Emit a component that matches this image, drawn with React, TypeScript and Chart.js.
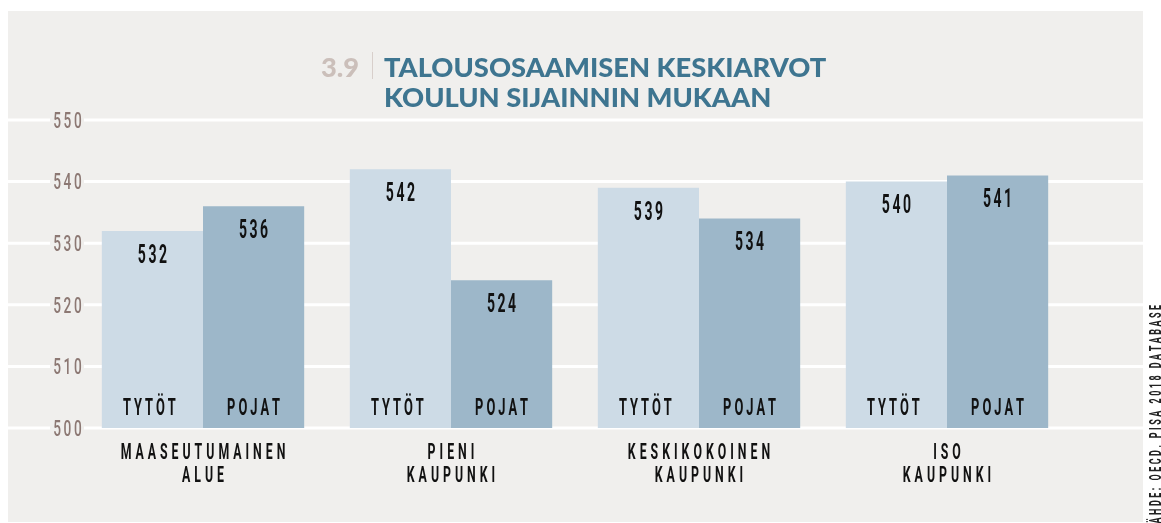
import React, { useEffect, useRef } from "react";
import { Chart, registerables } from "chart.js";

Chart.register(...registerables);

const CATEGORIES: string[][] = [
  ["MAASEUTUMAINEN", "ALUE"],
  ["PIENI", "KAUPUNKI"],
  ["KESKIKOKOINEN", "KAUPUNKI"],
  ["ISO", "KAUPUNKI"],
];
const SERIES_NAMES = ["TYTÖT", "POJAT"];
const GIRLS = [532, 542, 539, 540];
const BOYS = [536, 524, 534, 541];
const Y_TICKS = [500, 510, 520, 530, 540, 550];
const TITLE_NUMBER = "3.9";
const TITLE_LINES = ["TALOUSOSAAMISEN KESKIARVOT", "KOULUN SIJAINNIN MUKAAN"];
const SOURCE = "LÄHDE: OECD, PISA 2018 DATABASE";

const BG = "#f0efed";
const LIGHT = "#cddbe6";
const DARK = "#9db7c9";
const TEAL = "#3e7590";
const TICK_COLOR = "#8c7873";
const FONT = "Roboto, 'Liberation Sans', sans-serif";

type TxtOpts = {
  size: number;
  weight?: string | number;
  family?: string;
  scaleX?: number;
  spacing?: number;
  color?: string;
  align?: "left" | "center" | "right";
};

function spacedText(ctx: CanvasRenderingContext2D, text: string, x: number, yCenter: number, o: TxtOpts) {
  const size = o.size;
  const scaleX = o.scaleX ?? 1;
  const spacing = o.spacing ?? 0;
  const align = o.align ?? "center";
  ctx.save();
  ctx.font = `${o.weight ?? "normal"} ${size}px ${o.family ?? FONT}`;
  ctx.fillStyle = o.color ?? "#111";
  ctx.textBaseline = "alphabetic";
  ctx.textAlign = "left";
  const chars = Array.from(text);
  const widths = chars.map((c) => ctx.measureText(c).width * scaleX);
  const total = widths.reduce((a, b) => a + b, 0) + spacing * (chars.length - 1);
  let cx = align === "center" ? x - total / 2 : align === "right" ? x - total : x;
  const base = yCenter + size * 0.355;
  chars.forEach((c, i) => {
    ctx.save();
    ctx.translate(cx, base);
    ctx.scale(scaleX, 1);
    ctx.fillText(c, 0, 0);
    ctx.restore();
    cx += widths[i] + spacing;
  });
  ctx.restore();
  return total;
}

const backgroundPlugin = {
  id: "bgPanel",
  beforeDraw(chart: any) {
    const ctx: CanvasRenderingContext2D = chart.ctx;
    const y = chart.scales.y;
    ctx.save();
    ctx.fillStyle = BG;
    ctx.fillRect(8, 11, 1135, 511);

    // title
    ctx.font = `900 27.3px Lato, Roboto, sans-serif`;
    ctx.textBaseline = "alphabetic";
    ctx.textAlign = "left";
    ctx.fillStyle = "#cbbfba";
    ctx.fillText(TITLE_NUMBER, 321, 77);
    ctx.strokeStyle = "#d8cfcb";
    ctx.lineWidth = 1;
    ctx.beginPath();
    ctx.moveTo(372.5, 52);
    ctx.lineTo(372.5, 79);
    ctx.stroke();
    ctx.fillStyle = TEAL;
    TITLE_LINES.forEach((t, i) => ctx.fillText(t, 384, 77 + i * 29.5));

    // gridlines
    ctx.strokeStyle = "#ffffff";
    ctx.lineWidth = 3;
    Y_TICKS.forEach((v) => {
      const py = y.getPixelForValue(v);
      ctx.beginPath();
      ctx.moveTo(8, py);
      ctx.lineTo(1143, py);
      ctx.stroke();
    });
    // tick labels with background
    Y_TICKS.forEach((v) => {
      const py = y.getPixelForValue(v);
      ctx.fillStyle = BG;
      ctx.fillRect(50, py - 3, 34, 6);
      spacedText(ctx, String(v), 67.5, py, { size: 22, weight: 500, scaleX: 0.62, spacing: 2.5, color: TICK_COLOR });
    });
    ctx.restore();
  },
};

const labelsPlugin = {
  id: "labels",
  afterDatasetsDraw(chart: any) {
    const ctx: CanvasRenderingContext2D = chart.ctx;
    const x = chart.scales.x;
    chart.data.datasets.forEach((ds: any, di: number) => {
      const meta = chart.getDatasetMeta(di);
      meta.data.forEach((bar: any, i: number) => {
        spacedText(ctx, String(ds.data[i]), bar.x, bar.y + 23, { size: 25, weight: "bold", scaleX: 0.56, spacing: 2.5, color: "#111" });
        spacedText(ctx, SERIES_NAMES[di], bar.x - (di === 0 ? 3 : 0), 407, { size: 23, weight: "bold", scaleX: 0.56, spacing: 3, color: "#111" });
      });
    });
    CATEGORIES.forEach((lines, i) => {
      const cx = x.getPixelForValue(i);
      lines.forEach((l, li) => {
        spacedText(ctx, l, cx, 451 + li * 23, { size: 22, weight: "bold", scaleX: 0.56, spacing: 4, color: "#111" });
      });
    });
    // source, rotated
    ctx.save();
    ctx.translate(1155.5, 305);
    ctx.rotate(-Math.PI / 2);
    spacedText(ctx, SOURCE, 0, 0, { size: 16, weight: "bold", scaleX: 0.56, spacing: 2.5, color: "#222", align: "right" });
    ctx.restore();
  },
};

export default function App() {
  const ref = useRef<HTMLCanvasElement>(null);
  useEffect(() => {
    if (!ref.current) return;
    const chart = new Chart(ref.current, {
      type: "bar",
      data: {
        labels: CATEGORIES.map((c) => c.join(" ")),
        datasets: [
          { label: SERIES_NAMES[0], data: GIRLS, backgroundColor: LIGHT, borderWidth: 0, categoryPercentage: 0.816, barPercentage: 1 },
          { label: SERIES_NAMES[1], data: BOYS, backgroundColor: DARK, borderWidth: 0, categoryPercentage: 0.816, barPercentage: 1 },
        ],
      },
      options: {
        responsive: false,
        animation: false,
        layout: { padding: { left: 79, right: 90, top: 120, bottom: 95 } },
        plugins: { legend: { display: false }, tooltip: { enabled: false }, title: { display: false } },
        scales: {
          x: { display: false, offset: true },
          y: { display: false, min: 500, max: 550, ticks: { stepSize: 10 } },
        },
      },
      plugins: [backgroundPlugin, labelsPlugin],
    });
    return () => chart.destroy();
  }, []);
  return (
    <div style={{ position: "fixed", left: 0, top: 0, width: 1161, height: 523, overflow: "hidden", background: "#fff" }}>
      <canvas ref={ref} width={1161} height={523} style={{ width: 1161, height: 523, display: "block" }} />
    </div>
  );
}
